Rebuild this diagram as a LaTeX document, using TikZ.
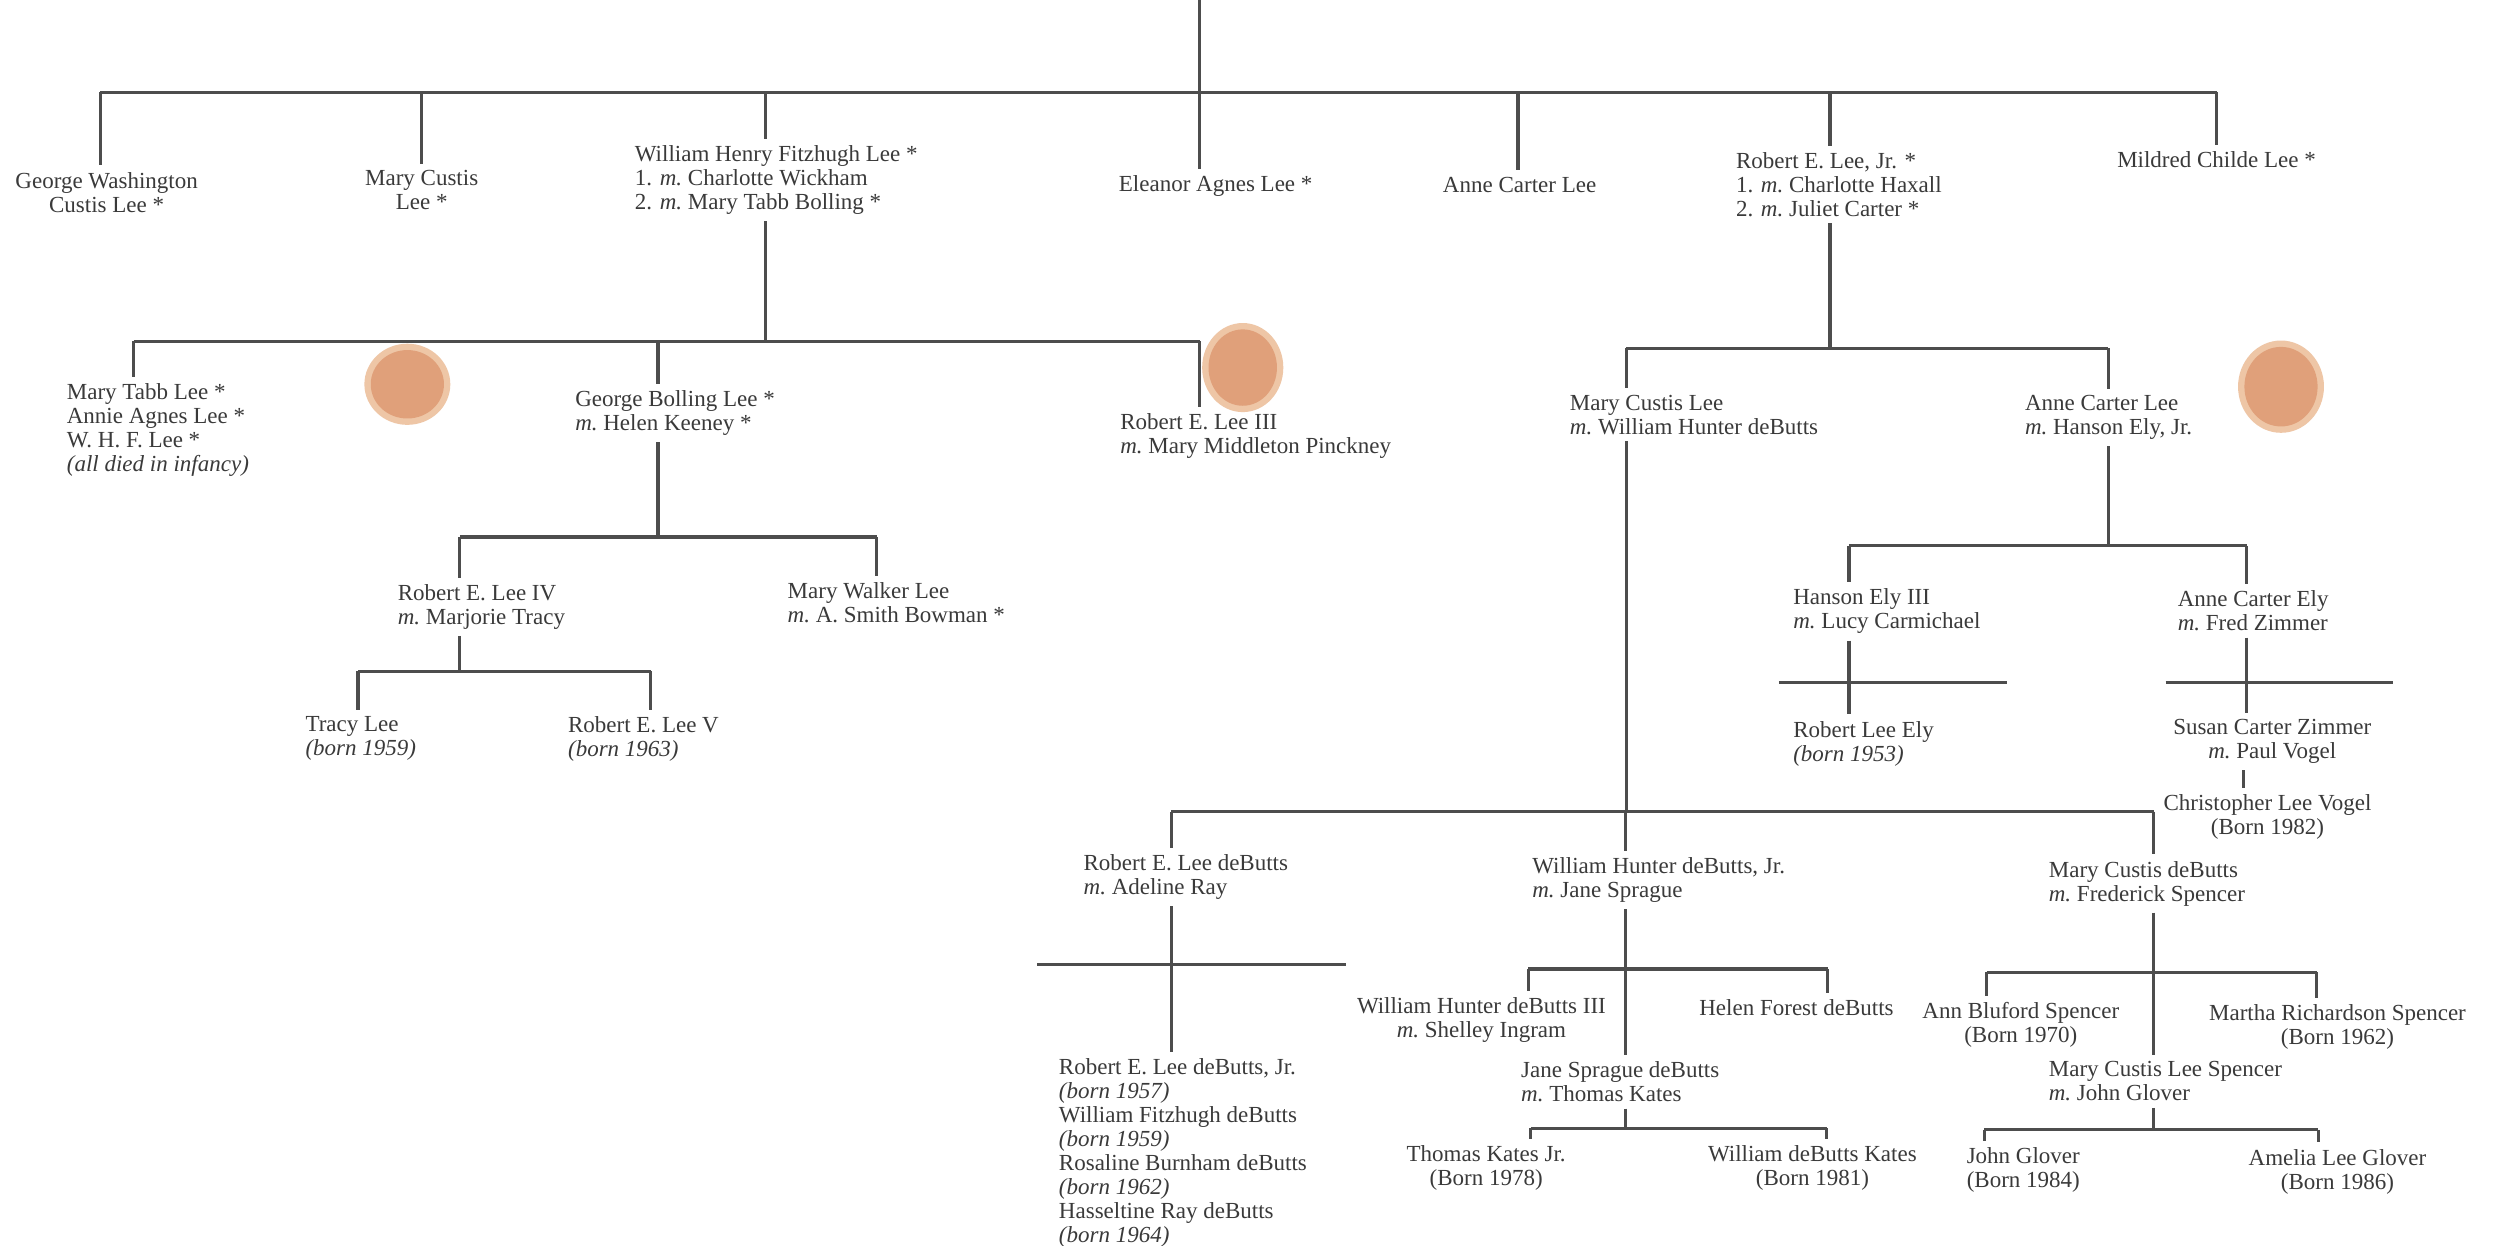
\documentclass[tikz,border=0pt]{standalone}
\usepackage{fontspec}
\setmainfont{Liberation Serif}
\definecolor{ink}{HTML}{3A3A3A}
\definecolor{linegrey}{HTML}{4D4D4D}
\definecolor{stain}{HTML}{E0A07A}
\definecolor{stainrim}{HTML}{EEC6A6}
\newcommand{\wed}{\textit{m.}\ }
\tikzset{
  person/.style={inner xsep=0pt, inner ysep=2pt, text=ink,
    font=\fontsize{9.2}{9.6}\selectfont, align=left, anchor=north west},
  mid person/.style={person, align=center, anchor=north},
  blot/.style={fill=stainrim, draw=none}
}
\begin{document}
\begin{tikzpicture}[x=0.6365pt, y=-0.6365pt, line width=1.3pt, linegrey]
  \fill[white] (0,0) rectangle (1568,783);
  \useasboundingbox (0,0) rectangle (1568,783);

  % children of Robert E. Lee
  \node[mid person] (gwcl) at (67,104) {George Washington\\Custis Lee *};
  \node[mid person] (mcl) at (265,103) {Mary Custis\\Lee *};
  \node[person] (whfl) at (398,87.5) {William Henry Fitzhugh Lee *\\1. \wed Charlotte Wickham\\2. \wed Mary Tabb Bolling *};
  \node[mid person] (eal) at (764,106) {Eleanor Agnes Lee *};
  \node[mid person] (acl) at (955,107) {Anne Carter Lee};
  \node[person] (relj) at (1090,91.5) {Robert E. Lee, Jr. *\\1. \wed Charlotte Haxall\\2. \wed Juliet Carter *};
  \node[mid person] (mchl) at (1393,91) {Mildred Childe Lee *};

  % W. H. F. Lee line
  \node[person] (inf) at (41,237) {Mary Tabb Lee *\\Annie Agnes Lee *\\W. H. F. Lee *\\\textit{(all died in infancy)}};
  \node[person] (gbl) at (360.5,241.5) {George Bolling Lee *\\\wed Helen Keeney *};
  \node[person] (rel3) at (703,256) {Robert E. Lee III\\\wed Mary Middleton Pinckney};
  \node[person] (rel4) at (249,363) {Robert E. Lee IV\\\wed Marjorie Tracy};
  \node[person] (mwl) at (494,362) {Mary Walker Lee\\\wed A. Smith Bowman *};
  \node[person] (tl) at (191,446) {Tracy Lee\\\textit{(born 1959)}};
  \node[person] (rel5) at (356,446) {Robert E. Lee V\\\textit{(born 1963)}};

  % Robert E. Lee, Jr. line
  \node[person] (mcld) at (985.6,244) {Mary Custis Lee\\\wed William Hunter deButts};
  \node[person] (acle) at (1271.6,244.5) {Anne Carter Lee\\\wed Hanson Ely, Jr.};
  \node[person] (he3) at (1126,366) {Hanson Ely III\\\wed Lucy Carmichael};
  \node[person] (ace) at (1367.6,367) {Anne Carter Ely\\\wed Fred Zimmer};
  \node[person] (rle) at (1126,449) {Robert Lee Ely\\\textit{(born 1953)}};
  \node[mid person] (scz) at (1428,448) {Susan Carter Zimmer\\\wed Paul Vogel};
  \node[mid person] (clv) at (1425,495) {Christopher Lee Vogel\\(Born 1982)};

  % deButts line
  \node[person] (reld) at (680,533) {Robert E. Lee deButts\\\wed Adeline Ray};
  \node[person] (reldk) at (664.5,661) {Robert E. Lee deButts, Jr.\\\textit{(born 1957)}\\William Fitzhugh deButts\\\textit{(born 1959)}\\Rosaline Burnham deButts\\\textit{(born 1962)}\\Hasseltine Ray deButts\\\textit{(born 1964)}};
  \node[person] (whdj) at (962,535) {William Hunter deButts, Jr.\\\wed Jane Sprague};
  \node[person] (mcdb) at (1286.6,537) {Mary Custis deButts\\\wed Frederick Spencer};
  \node[mid person] (whd3) at (931,623) {William Hunter deButts III\\\wed Shelley Ingram};
  \node[mid person] (hfd) at (1129,624) {Helen Forest deButts};
  \node[person] (jsd) at (955,663) {Jane Sprague deButts\\\wed Thomas Kates};
  \node[mid person] (tkj) at (934,716) {Thomas Kates Jr.\\(Born 1978)};
  \node[mid person] (wdk) at (1139,716) {William deButts Kates\\(Born 1981)};
  \node[mid person] (abs) at (1270,626) {Ann Bluford Spencer\\(Born 1970)};
  \node[mid person] (mrs) at (1469,627) {Martha Richardson Spencer\\(Born 1962)};
  \node[person] (mcls) at (1286.6,663) {Mary Custis Lee Spencer\\\wed John Glover};
  \node[person] (jg) at (1235,717) {John Glover\\(Born 1984)};
  \node[mid person] (alg) at (1469,718) {Amelia Lee Glover\\(Born 1986)};

  % stains on the sheet
  \foreach \sx/\sy/\rx/\ry in {256/241.5/27/25.5, 781/231/25.5/28, 1433.5/243/27/29} {
    \fill[blot] (\sx,\sy) ellipse [x radius=\rx, y radius=\ry];
    \fill[stain] (\sx,\sy) ellipse [x radius=\rx-4, y radius=\ry-4];
  }

  % drops from each bar
  \foreach \n/\x/\y in {gwcl/63/58, mcl/265/58, whfl/481/58, eal/754/58, acl/954/58,
      relj/1150/58, mchl/1393/58, inf/84/214.5, gbl/413.5/214.5, rel3/754/214.5,
      rel4/289/337.5, mwl/551/337.5, tl/225/422, rel5/409/422,
      mcld/1022/219, acle/1325/219, he3/1162/343, ace/1412/343,
      reld/736/510, whdj/1021.5/510, mcdb/1353.5/510,
      whd3/960.5/609, hfd/1148.5/609, tkj/962/709, wdk/1148/709,
      abs/1248.5/611, mrs/1456/611, jg/1247/710, alg/1457/710}
    \draw (\x,\y) coordinate (u-\n) -- (u-\n |- \n.north);

  % bars
  \coordinate (root) at (754,0);
  \draw (root) -- (u-eal);
  \draw (u-gwcl) -- (u-mchl);
  \draw (u-inf) -- (u-rel3);
  \draw (u-rel4) -- (u-mwl);
  \draw (u-tl) -- (u-rel5);
  \draw (u-mcld) -- (u-acle);
  \draw (u-he3) -- (u-ace);
  \draw (u-reld) -- (u-mcdb);
  \draw (u-whd3) -- (u-hfd);
  \draw (u-tkj) -- (u-wdk);
  \draw (u-abs) -- (u-mrs);
  \draw (u-jg) -- (u-alg);
  \draw (1118,429) coordinate (k1) -- (1261.5,429) coordinate (k2);
  \draw (1361,429) coordinate (k3) -- (1504,429) coordinate (k4);
  \draw (652,606) coordinate (k5) -- (846,606) coordinate (k6);

  % parents down to their bars
  \draw (u-whfl |- whfl.south) -- (u-whfl |- u-inf);
  \draw (u-gbl |- gbl.south) -- (u-gbl |- u-rel4);
  \draw (u-rel4 |- rel4.south) -- (u-rel4 |- u-tl);
  \draw (u-relj |- relj.south) -- (u-relj |- u-mcld);
  \draw (u-acle |- acle.south) -- (u-acle |- u-he3);
  \draw (u-mcld |- mcld.south) -- (u-mcld |- u-reld);
  \draw (u-he3 |- he3.south) -- (u-he3 |- rle.north);
  \draw (u-ace |- ace.south) -- (u-ace |- scz.north);
  \draw (1410,0 |- scz.south) -- (1410,0 |- clv.north);
  \draw (u-reld |- reld.south) -- (u-reld |- reldk.north);
  \draw (u-whdj |- whdj.south) -- (u-whdj |- jsd.north);
  \draw (u-whdj |- jsd.south) -- (u-whdj |- u-tkj);
  \draw (u-mcdb |- mcdb.south) -- (u-mcdb |- mcls.north);
  \draw (u-mcdb |- mcls.south) -- (u-mcdb |- u-jg);
\end{tikzpicture}
\end{document}
